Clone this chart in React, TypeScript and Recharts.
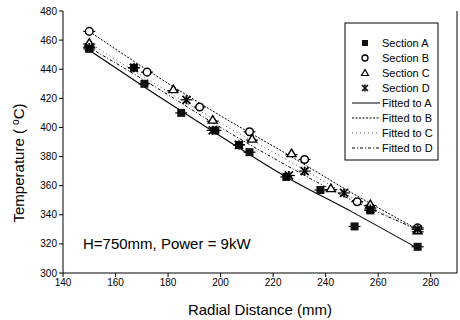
import React from 'react';
import { ComposedChart, Scatter, Line, XAxis, YAxis } from 'recharts';

const xTicks = [140, 160, 180, 200, 220, 240, 260, 280];
const xMinorTicks = [150, 170, 190, 210, 230, 250, 270, 290];
const yTicks = [300, 320, 340, 360, 380, 400, 420, 440, 460, 480];
const yMinorTicks = [310, 330, 350, 370, 390, 410, 430, 450, 470];

const sectionA = [
  { x: 150, y: 454 }, { x: 167, y: 441 }, { x: 171, y: 430 }, { x: 185, y: 410 },
  { x: 198, y: 398 }, { x: 207, y: 388 }, { x: 211, y: 383 }, { x: 225, y: 366 },
  { x: 238, y: 357 }, { x: 251, y: 332 }, { x: 257, y: 343 }, { x: 275, y: 318 },
];
const sectionB = [
  { x: 150, y: 466 }, { x: 172, y: 438 }, { x: 192, y: 414 }, { x: 211, y: 397 },
  { x: 232, y: 378 }, { x: 252, y: 349 }, { x: 275, y: 331 },
];
const sectionC = [
  { x: 150, y: 458 }, { x: 182, y: 426 }, { x: 197, y: 405 }, { x: 212, y: 392 },
  { x: 227, y: 382 }, { x: 242, y: 358 }, { x: 257, y: 347 }, { x: 275, y: 329 },
];
const sectionD = [
  { x: 150, y: 455 }, { x: 167, y: 441 }, { x: 187, y: 419 }, { x: 197, y: 398 },
  { x: 207, y: 388 }, { x: 226, y: 367 }, { x: 232, y: 370 }, { x: 247, y: 355 },
  { x: 257, y: 344 }, { x: 275, y: 330 },
];

const fitA = [
  { x: 150, y: 453 }, { x: 175, y: 423 }, { x: 200, y: 394 }, { x: 225, y: 366 },
  { x: 250, y: 342 }, { x: 275, y: 317 },
];
const fitB = [
  { x: 150, y: 466 }, { x: 175, y: 436 }, { x: 200, y: 408 }, { x: 225, y: 382 },
  { x: 250, y: 355 }, { x: 275, y: 330 },
];
const fitC = [
  { x: 150, y: 458 }, { x: 175, y: 430 }, { x: 200, y: 403 }, { x: 225, y: 378 },
  { x: 250, y: 352 }, { x: 275, y: 329 },
];
const fitD = [
  { x: 150, y: 455 }, { x: 175, y: 428 }, { x: 200, y: 400 }, { x: 225, y: 374 },
  { x: 250, y: 350 }, { x: 275, y: 330 },
];

const FONT = '"Liberation Sans", Arial, sans-serif';

const Square = (p: any) => (
  <g>
    <line x1={p.cx - 6} x2={p.cx + 6} y1={p.cy} y2={p.cy} stroke="#000" strokeWidth={1.2} />
    <rect x={p.cx - 4} y={p.cy - 4} width={8} height={8} fill="#111" />
  </g>
);
const Circle = (p: any) => (
  <g>
    <line x1={p.cx - 6} x2={p.cx + 6} y1={p.cy} y2={p.cy} stroke="#000" strokeWidth={1.2} />
    <circle cx={p.cx} cy={p.cy} r={3.8} fill="#fff" stroke="#000" strokeWidth={1.5} />
  </g>
);
const Triangle = (p: any) => (
  <g>
    <line x1={p.cx - 6} x2={p.cx + 6} y1={p.cy + 1} y2={p.cy + 1} stroke="#000" strokeWidth={1.2} />
    <polygon
      points={`${p.cx},${p.cy - 4.5} ${p.cx - 4.5},${p.cy + 3} ${p.cx + 4.5},${p.cy + 3}`}
      fill="#fff" stroke="#000" strokeWidth={1.4}
    />
  </g>
);
const Star = (p: any) => (
  <g stroke="#000" strokeWidth={1.8}>
    <line x1={p.cx - 6} x2={p.cx + 6} y1={p.cy} y2={p.cy} strokeWidth={1.2} />
    <line x1={p.cx - 4} x2={p.cx + 4} y1={p.cy - 4} y2={p.cy + 4} />
    <line x1={p.cx - 4} x2={p.cx + 4} y1={p.cy + 4} y2={p.cy - 4} />
    <line x1={p.cx} x2={p.cx} y1={p.cy - 4.5} y2={p.cy + 4.5} />
  </g>
);

const dashB = '2 1.5';
const dashC = '1 3';
const dashD = '3 2 1 2';

const legendRows = [
  { label: 'Section A', kind: 'A' },
  { label: 'Section B', kind: 'B' },
  { label: 'Section C', kind: 'C' },
  { label: 'Section D', kind: 'D' },
  { label: 'Fitted to A', kind: 'fA' },
  { label: 'Fitted to B', kind: 'fB' },
  { label: 'Fitted to C', kind: 'fC' },
  { label: 'Fitted to D', kind: 'fD' },
];

function LegendSymbol({ kind, y }: { kind: string; y: number }) {
  const cx = 365;
  if (kind === 'A') return <rect x={cx - 3} y={y - 3} width={6} height={6} fill="#111" />;
  if (kind === 'B') return <circle cx={cx} cy={y} r={3} fill="#fff" stroke="#000" strokeWidth={1.3} />;
  if (kind === 'C')
    return (
      <polygon points={`${cx},${y - 3.5} ${cx - 3.5},${y + 2.5} ${cx + 3.5},${y + 2.5}`} fill="#fff" stroke="#000" strokeWidth={1.2} />
    );
  if (kind === 'D')
    return (
      <g stroke="#000" strokeWidth={1.5}>
        <line x1={cx - 3} x2={cx + 3} y1={y - 3} y2={y + 3} />
        <line x1={cx - 3} x2={cx + 3} y1={y + 3} y2={y - 3} />
        <line x1={cx} x2={cx} y1={y - 3.5} y2={y + 3.5} />
      </g>
    );
  const dash = kind === 'fA' ? undefined : kind === 'fB' ? dashB : kind === 'fC' ? dashC : dashD;
  const color = kind === 'fC' ? '#555' : '#000';
  return <line x1={352} x2={380} y1={y} y2={y} stroke={color} strokeWidth={1} strokeDasharray={dash} />;
}

export default function App() {
  return (
    <div style={{ position: 'absolute', left: 0, top: 0, width: 460, height: 320, background: '#fff' }}>
      <ComposedChart width={460} height={320} margin={{ top: 11, right: 3, bottom: 0, left: 0 }}>
        <XAxis
          xAxisId="b" type="number" dataKey="x" domain={[140, 290]} ticks={xTicks}
          allowDataOverflow height={47} stroke="#000" tickSize={4}
          tick={{ fontSize: 10, fill: '#000', fontFamily: FONT }}
        />
        <XAxis
          xAxisId="bm" type="number" dataKey="x" domain={[140, 290]} ticks={xMinorTicks}
          allowDataOverflow height={0} stroke="#000" tickSize={2} tickFormatter={() => ''} axisLine={false}
        />
        <XAxis
          xAxisId="t" orientation="top" type="number" dataKey="x" domain={[140, 290]} ticks={xTicks}
          allowDataOverflow height={0} mirror stroke="#000" tickSize={4} tickFormatter={() => ''}
        />
        <YAxis
          yAxisId="l" type="number" domain={[300, 480]} ticks={yTicks} width={63}
          stroke="#000" tickSize={4} allowDataOverflow
          tick={{ fontSize: 10, fill: '#000', fontFamily: FONT }}
        />
        <YAxis
          yAxisId="lm" type="number" domain={[300, 480]} ticks={yMinorTicks} width={0}
          stroke="#000" tickSize={2} tickFormatter={() => ''} axisLine={false}
        />
        <YAxis
          yAxisId="r" orientation="right" type="number" domain={[300, 480]} ticks={yTicks} width={1}
          mirror stroke="#000" tickSize={4} tickFormatter={() => ''}
        />
        <Line xAxisId="b" yAxisId="l" data={fitA} dataKey="y" type="monotone" stroke="#000" strokeWidth={1.1} dot={false} isAnimationActive={false} />
        <Line xAxisId="b" yAxisId="l" data={fitB} dataKey="y" type="monotone" stroke="#000" strokeWidth={1} strokeDasharray={dashB} dot={false} isAnimationActive={false} />
        <Line xAxisId="b" yAxisId="l" data={fitC} dataKey="y" type="monotone" stroke="#555" strokeWidth={1} strokeDasharray={dashC} dot={false} isAnimationActive={false} />
        <Line xAxisId="b" yAxisId="l" data={fitD} dataKey="y" type="monotone" stroke="#000" strokeWidth={1} strokeDasharray={dashD} dot={false} isAnimationActive={false} />
        <Scatter xAxisId="b" yAxisId="l" data={sectionB} dataKey="y" shape={Circle} isAnimationActive={false} />
        <Scatter xAxisId="b" yAxisId="l" data={sectionC} dataKey="y" shape={Triangle} isAnimationActive={false} />
        <Scatter xAxisId="b" yAxisId="l" data={sectionA} dataKey="y" shape={Square} isAnimationActive={false} />
        <Scatter xAxisId="b" yAxisId="l" data={sectionD} dataKey="y" shape={Star} isAnimationActive={false} />
      </ComposedChart>
      <svg width={460} height={320} style={{ position: 'absolute', left: 0, top: 0, pointerEvents: 'none' }}>
        <rect x={345} y={23} width={93} height={137} fill="#fff" stroke="#000" strokeWidth={1} />
        {legendRows.map((r, i) => {
          const y = 43 + i * 15;
          return (
            <g key={r.label}>
              <LegendSymbol kind={r.kind} y={y} />
              <text x={382} y={y + 4} fontSize={11} fontFamily={FONT} fill="#000">{r.label}</text>
            </g>
          );
        })}
        <text x={83} y={249} fontSize={15} fontFamily={FONT} fill="#000">H=750mm, Power = 9kW</text>
        <text x={260} y={315} fontSize={15} fontFamily={FONT} fill="#000" textAnchor="middle">Radial Distance (mm)</text>
        <text x={24} y={163} fontSize={15} fontFamily={FONT} fill="#000" textAnchor="middle" transform="rotate(-90 24 163)">
          Temperature ( <tspan dy={-5} fontSize={10}>o</tspan><tspan dy={5}>C)</tspan>
        </text>
      </svg>
    </div>
  );
}
